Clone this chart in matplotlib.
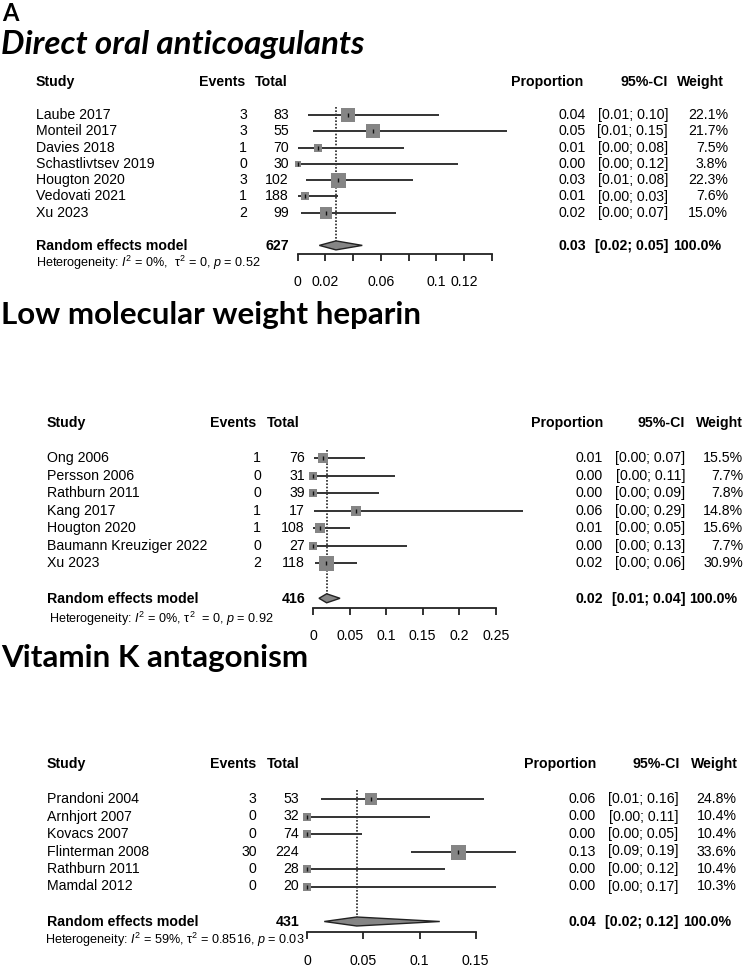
import numpy as np
import matplotlib
matplotlib.use("Agg")
import matplotlib.pyplot as plt
from matplotlib import transforms

# ---------------- DATA ----------------
doac_studies = ["Laube 2017", "Monteil 2017", "Davies 2018", "Schastlivtsev 2019",
                "Hougton 2020", "Vedovati 2021", "Xu 2023"]
doac_events = [3, 3, 1, 0, 3, 1, 2]
doac_total = [83, 55, 70, 30, 102, 188, 99]
doac_prop = [0.0361, 0.0545, 0.0143, 0.0, 0.0294, 0.0053, 0.0202]
doac_lower = [0.0075, 0.0114, 0.0004, 0.0, 0.0061, 0.0001, 0.0025]
doac_upper = [0.102, 0.151, 0.077, 0.116, 0.083, 0.0293, 0.0711]
doac_weight = [22.1, 21.7, 7.5, 3.8, 22.3, 7.6, 15.0]
doac_summary = (0.0276, 0.0156, 0.0466)
doac_sum_total = 627
doac_het = r"Heterogeneity: $I^2$ = 0%,  τ$^2$ = 0, $p$ = 0.52"
doac_ticks = [0, 0.02, 0.04, 0.06, 0.08, 0.10, 0.12, 0.14]
doac_ticklabels = ["0", "0.02", "", "0.06", "", "0.1", "0.12", ""]

lmwh_studies = ["Ong 2006", "Persson 2006", "Rathburn 2011", "Kang 2017",
                "Hougton 2020", "Baumann Kreuziger 2022", "Xu 2023"]
lmwh_events = [1, 0, 0, 1, 1, 0, 2]
lmwh_total = [76, 31, 39, 17, 108, 27, 118]
lmwh_prop = [0.0132, 0.0, 0.0, 0.0588, 0.0093, 0.0, 0.0169]
lmwh_lower = [0.0003, 0.0, 0.0, 0.0015, 0.0002, 0.0, 0.0021]
lmwh_upper = [0.0711, 0.112, 0.0903, 0.287, 0.0504, 0.128, 0.0599]
lmwh_weight = [15.5, 7.7, 7.8, 14.8, 15.6, 7.7, 30.9]
lmwh_summary = (0.0183, 0.0078, 0.0366)
lmwh_sum_total = 416
lmwh_het = r"Heterogeneity: $I^2$ = 0%, τ$^2$  = 0, $p$ = 0.92"
lmwh_ticks = [0, 0.05, 0.10, 0.15, 0.20, 0.25]
lmwh_ticklabels = ["0", "0.05", "0.1", "0.15", "0.2", "0.25"]

vka_studies = ["Prandoni 2004", "Arnhjort 2007", "Kovacs 2007", "Flinterman 2008",
               "Rathburn 2011", "Mamdal 2012"]
vka_events = [3, 0, 0, 30, 0, 0]
vka_total = [53, 32, 74, 224, 28, 20]
vka_prop = [0.0566, 0.0, 0.0, 0.1339, 0.0, 0.0]
vka_lower = [0.0118, 0.0, 0.0, 0.0922, 0.0, 0.0]
vka_upper = [0.157, 0.109, 0.0486, 0.186, 0.123, 0.168]
vka_weight = [24.8, 10.4, 10.4, 33.6, 10.4, 10.3]
vka_summary = (0.044, 0.0151, 0.118)
vka_sum_total = 431
vka_het = r"Heterogeneity: $I^2$ = 59%, τ$^2$ = 0.8516, $p$ = 0.03"
vka_ticks = [0, 0.05, 0.10, 0.15]
vka_ticklabels = ["0", "0.05", "0.1", "0.15"]

panel_titles = ["Direct oral anticoagulants", "Low molecular weight heparin",
                "Vitamin K antagonism"]

# ---------------- LAYOUT ----------------
W, H = 746, 966
plt.rcParams['mathtext.fontset'] = 'custom'
plt.rcParams['mathtext.rm'] = 'Liberation Sans'
plt.rcParams['mathtext.it'] = 'Liberation Sans:italic'
plt.rcParams['mathtext.bf'] = 'Liberation Sans:bold'

fig = plt.figure(figsize=(W / 100, H / 100), dpi=100)
fig.patch.set_facecolor("white")
px = transforms.Affine2D().scale(1.0 / W, 1.0 / H) + fig.transFigure

TF = "Liberation Sans"
FS = 10.2
SQ_COL = "#858585"
LN_COL = "#333333"

layouts = [
    dict(x0=297.7, x1=491.7, row0=115.0, sp=16.3, axis_idx=8.55, title_base=54, italic=True,
         title_fs=23.9,
         study_x=36, ev_r=247, tot_r=289, prop_r=586, ci_r=668, w_r=728,
         hev_r=245, htot_r=288, hprop_r=583, hci_r=668, hw_r=724, sw_r=721,
         het_x=36, het_idx=9.05, sum_idx=8.05, lab_off=24),
    dict(x0=313.3, x1=495.7, row0=458.3, sp=17.5, axis_idx=8.54, title_base=324, italic=False,
         title_fs=22.6,
         study_x=46.7, ev_r=261, tot_r=305, prop_r=603, ci_r=685, w_r=743,
         hev_r=256.7, htot_r=300, hprop_r=603, hci_r=685, hw_r=742.7, sw_r=737,
         het_x=49, het_idx=9.15, sum_idx=8.06, lab_off=24),
    dict(x0=307.3, x1=475.7, row0=799.0, sp=17.5, axis_idx=7.58, title_base=667, italic=False,
         title_fs=22.6,
         study_x=46.7, ev_r=256.7, tot_r=299.3, prop_r=596, ci_r=678.3, w_r=736.7,
         hev_r=256.7, htot_r=300, hprop_r=596.7, hci_r=680, hw_r=737.7, sw_r=731,
         het_x=45, het_idx=8.06, sum_idx=7.01, lab_off=25),
]

panels = [
    (doac_studies, doac_events, doac_total, doac_prop, doac_lower, doac_upper, doac_weight,
     doac_summary, doac_sum_total, doac_het, doac_ticks, doac_ticklabels),
    (lmwh_studies, lmwh_events, lmwh_total, lmwh_prop, lmwh_lower, lmwh_upper, lmwh_weight,
     lmwh_summary, lmwh_sum_total, lmwh_het, lmwh_ticks, lmwh_ticklabels),
    (vka_studies, vka_events, vka_total, vka_prop, vka_lower, vka_upper, vka_weight,
     vka_summary, vka_sum_total, vka_het, vka_ticks, vka_ticklabels),
]

fig.text(2 / W, 1 - 21 / H, "A", fontsize=17, fontweight="bold", family="Lato",
         ha="left", va="baseline")

for k, (L, P) in enumerate(zip(layouts, panels)):
    (studies, events, total, prop, lower, upper, weight,
     summ, sum_total, het, ticks, ticklabels) = P
    n = len(studies)
    ytop = -0.6
    top_px = L["row0"] + ytop * L["sp"]
    bot_px = L["row0"] + L["axis_idx"] * L["sp"]
    ax = fig.add_axes([L["x0"] / W, 1 - bot_px / H, (L["x1"] - L["x0"]) / W,
                       (bot_px - top_px) / H])
    ax.set_facecolor("none")
    ax.set_xlim(ticks[0], ticks[-1])
    ax.set_ylim(L["axis_idx"], ytop)
    for s in ["left", "right", "top"]:
        ax.spines[s].set_visible(False)
    ax.spines["bottom"].set_color("#222222")
    ax.spines["bottom"].set_linewidth(1.3)
    ax.set_yticks([])
    ax.set_xticks(ticks)
    ax.set_xticklabels(ticklabels, fontsize=FS, family=TF)
    pad_pt = (L["lab_off"] - 5 - 5.2) / 1.389
    ax.tick_params(axis="x", direction="out", length=5.2, width=1.3, color="#222222",
                   pad=pad_pt)

    # title
    fig.text(1 / W, 1 - L["title_base"] / H, panel_titles[k], family="Lato",
             fontsize=L["title_fs"], fontweight="bold",
             style="italic" if L["italic"] else "normal",
             ha="left", va="baseline")

    wmax = max(weight)
    rows = np.arange(n)
    for i in range(n):
        ax.plot([lower[i], upper[i]], [rows[i], rows[i]], color=LN_COL, lw=1.4,
                clip_on=False, solid_capstyle="butt", zorder=2)
        side_px = 15.0 * np.sqrt(weight[i] / wmax)
        ax.plot([prop[i]], [rows[i]], marker="s", ms=side_px * 0.72, color=SQ_COL,
                mec=SQ_COL, mew=0, clip_on=False, zorder=3)
        ax.plot([prop[i]], [rows[i]], marker="|", ms=3.5, color="#111111", mew=1.0,
                clip_on=False, zorder=4)

    est, lo, hi = summ
    yd = n + 1
    hh = 4.5 / L["sp"]
    ax.fill([lo, est, hi, est], [yd, yd - hh, yd, yd + hh], facecolor=SQ_COL,
            edgecolor="#222222", lw=1.0, zorder=3, clip_on=False)
    ax.plot([est, est], [-0.5, yd], color="#222222", lw=1.2, ls=(0, (1, 1)), zorder=1)

    bt = transforms.blended_transform_factory(px, ax.transData)
    hdr = -2
    ax.text(L["study_x"], hdr, "Study", transform=bt, family=TF, fontsize=FS,
            fontweight="bold", ha="left", va="center")
    ax.text(L["hev_r"], hdr, "Events", transform=bt, family=TF, fontsize=FS,
            fontweight="bold", ha="right", va="center")
    ax.text(L["htot_r"], hdr, "Total", transform=bt, family=TF, fontsize=FS,
            fontweight="bold", ha="right", va="center")
    ax.text(L["hprop_r"], hdr, "Proportion", transform=bt, family=TF, fontsize=FS,
            fontweight="bold", ha="right", va="center")
    ax.text(L["hci_r"], hdr, "95%-CI", transform=bt, family=TF, fontsize=FS,
            fontweight="bold", ha="right", va="center")
    ax.text(L["hw_r"], hdr, "Weight", transform=bt, family=TF, fontsize=FS,
            fontweight="bold", ha="right", va="center")

    for i in range(n):
        y = rows[i]
        ax.text(L["study_x"], y, studies[i], transform=bt, family=TF, fontsize=FS,
                ha="left", va="center")
        ax.text(L["ev_r"], y, str(events[i]), transform=bt, family=TF, fontsize=FS,
                ha="right", va="center")
        ax.text(L["tot_r"], y, str(total[i]), transform=bt, family=TF, fontsize=FS,
                ha="right", va="center")
        ax.text(L["prop_r"], y, "%.2f" % prop[i], transform=bt, family=TF, fontsize=FS,
                ha="right", va="center")
        ax.text(L["ci_r"], y, "[%.2f; %.2f]" % (lower[i], upper[i]), transform=bt,
                family=TF, fontsize=FS, ha="right", va="center")
        ax.text(L["w_r"], y, "%.1f%%" % weight[i], transform=bt, family=TF, fontsize=FS,
                ha="right", va="center")

    ys = L["sum_idx"]
    ax.text(L["study_x"], ys, "Random effects model", transform=bt, family=TF,
            fontsize=FS, fontweight="bold", ha="left", va="center")
    ax.text(L["tot_r"], ys, str(sum_total), transform=bt, family=TF, fontsize=FS,
            fontweight="bold", ha="right", va="center")
    ax.text(L["prop_r"], ys, "%.2f" % est, transform=bt, family=TF, fontsize=FS,
            fontweight="bold", ha="right", va="center")
    ax.text(L["ci_r"], ys, "[%.2f; %.2f]" % (lo, hi), transform=bt, family=TF,
            fontsize=FS, fontweight="bold", ha="right", va="center")
    ax.text(L["sw_r"], ys, "100.0%", transform=bt, family=TF, fontsize=FS,
            fontweight="bold", ha="right", va="center")
    ax.text(L["het_x"], L["het_idx"], het, transform=bt, family=TF, fontsize=9.1,
            ha="left", va="center")

fig.savefig("out.png", dpi=100, facecolor="white")
